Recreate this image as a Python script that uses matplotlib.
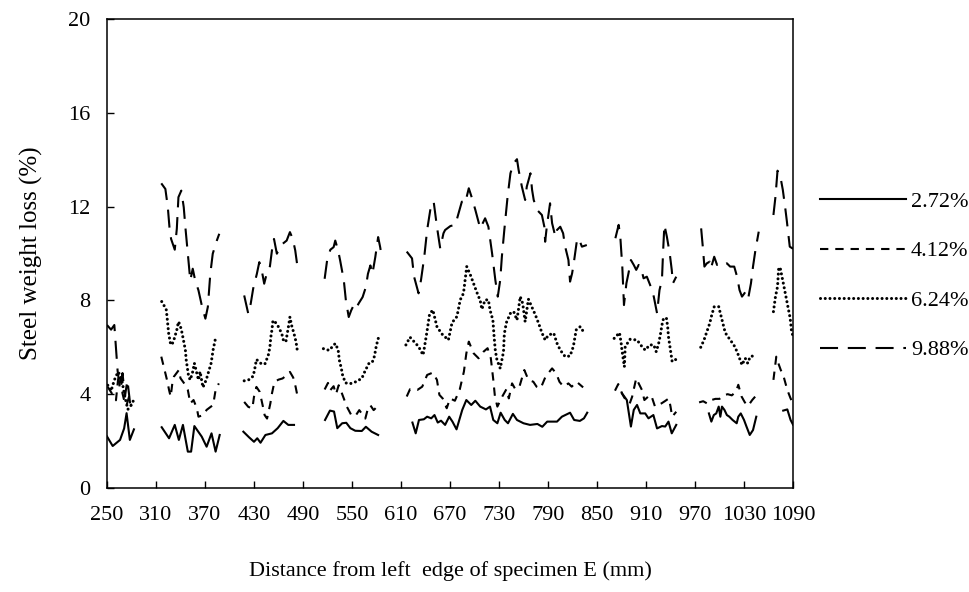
import numpy as np
import matplotlib
matplotlib.use("Agg")
import matplotlib.pyplot as plt

plt.rcParams["font.family"] = "serif"
plt.rcParams["font.serif"] = ["Liberation Serif", "DejaVu Serif"]
plt.rcParams["lines.scale_dashes"] = False

# distance (mm) and steel weight loss (%) per measured segment, one list per gap-free stretch
x_272 = [
    [250, 257, 266, 271, 274, 278, 283],
    [317, 326, 333, 338, 343, 349, 353, 357, 366, 372, 378, 383, 388],
    [417, 424, 430, 434, 438, 444, 452, 459, 466, 472, 479],
    [517, 523, 528, 532, 538, 543, 548, 554, 562, 567, 574, 582],
    [624, 628, 632, 638, 642, 647, 651, 655, 659, 664, 669, 673, 678, 685, 690, 696, 701, 707, 714, 719,
     723, 728, 732, 737, 741, 747, 752, 760, 768, 777, 783, 789, 801, 807, 817, 822, 829, 834, 838],
    [880.5, 886.5, 891.5, 895, 899, 903, 909, 913, 919, 923.5, 929.5, 933.5, 937.5, 941.5, 947],
    [987, 990, 993, 996, 999, 1001, 1003, 1006, 1009, 1012, 1016, 1021, 1023, 1026, 1030, 1033, 1037, 1041, 1045],
    [1078, 1083, 1087, 1090],
]
y_272 = [
    [2.2, 1.79, 2.05, 2.54, 3.19, 2.05, 2.5],
    [2.59, 2.12, 2.69, 2.05, 2.69, 1.55, 1.55, 2.64, 2.19, 1.76, 2.33, 1.55, 2.26],
    [2.40, 2.16, 1.97, 2.12, 1.93, 2.26, 2.33, 2.55, 2.86, 2.69, 2.69],
    [2.90, 3.30, 3.26, 2.55, 2.76, 2.78, 2.55, 2.44, 2.43, 2.61, 2.40, 2.26],
    [2.79, 2.33, 2.90, 2.93, 3.04, 2.97, 3.11, 2.79, 2.87, 2.69, 3.04, 2.83, 2.50, 3.33, 3.75, 3.54, 3.72, 3.47, 3.35, 3.47,
     2.90, 2.76, 3.21, 2.90, 2.76, 3.16, 2.90, 2.76, 2.69, 2.73, 2.61, 2.83, 2.83, 3.04, 3.21, 2.90, 2.86, 2.97, 3.21],
    [4.04, 3.75, 2.62, 3.33, 3.54, 3.18, 3.18, 2.97, 3.11, 2.54, 2.64, 2.62, 2.83, 2.33, 2.69],
    [3.18, 2.83, 3.11, 3.18, 3.47, 3.04, 3.47, 3.33, 3.11, 3.04, 2.90, 2.76, 3.04, 3.18, 2.90, 2.62, 2.26, 2.47, 3.04],
    [3.3, 3.35, 2.9, 2.7],
]

x_412 = [
    [251, 256, 261, 263.5, 266, 269, 272, 274, 277, 280],
    [316.5, 319, 322, 324, 326, 328, 330, 332, 338, 340, 346, 349, 352, 356, 360, 362, 368, 372, 380, 383, 387],
    [418, 423, 428, 430, 433, 437, 441, 443, 446, 450, 452, 455, 460, 465, 470, 474, 478, 481, 483],
    [516.5, 520.6, 523.4, 527.5, 530.4, 533.7, 537.7, 543.8, 549.1, 554, 558.9, 566.3, 569.5, 572.4, 576.5, 582.6],
    [617, 621, 630, 636, 642, 649, 654, 657, 661, 666, 670, 676, 682, 687, 690, 693, 699, 705, 711, 716, 720, 723,
     725, 728, 734, 739, 742, 746, 750, 755, 761, 766, 772, 776, 781, 787, 795, 800, 804, 809, 815, 819, 825, 833],
    [872, 876, 881, 886, 890, 893, 895, 898, 901, 905, 908, 915, 917, 921, 929, 933, 938, 940, 942, 947],
    [975, 980, 985, 990, 995, 1000, 1005, 1010, 1015, 1020, 1023, 1027, 1031, 1035, 1040, 1045],
    [1066, 1069.5, 1072, 1075, 1078.5, 1083, 1087, 1090],
]
y_412 = [
    [4.31, 4.03, 3.74, 4.6, 4.88, 4.03, 3.60, 3.53, 3.89, 3.5],
    [5.6, 5.25, 4.82, 4.53, 4.18, 3.89, 4.46, 4.75, 5.03, 4.68, 4.39, 4.18, 3.61, 3.75, 3.40, 3.04, 3.11, 3.33, 3.54, 4.18, 4.46],
    [3.67, 3.46, 3.39, 3.89, 4.31, 4.10, 3.46, 3.11, 2.96, 3.60, 4.03, 4.52, 4.62, 4.67, 4.81, 4.95, 4.71, 4.31, 3.96],
    [4.20, 4.48, 4.17, 4.34, 4.00, 4.38, 4.03, 3.46, 3.11, 3.06, 3.32, 2.96, 3.39, 3.53, 3.32, 3.53],
    [3.90, 4.21, 4.18, 4.32, 4.82, 4.92, 4.61, 3.97, 3.82, 3.40, 3.82, 3.72, 4.21, 4.96, 5.74, 6.24, 5.74, 5.53, 5.81, 5.96, 5.53, 4.61,
     3.90, 3.47, 3.90, 4.21, 3.82, 4.46, 4.21, 4.32, 5.03, 4.61, 4.53, 4.32, 4.25, 4.75, 5.10, 4.89, 4.53, 4.32, 4.46, 4.32, 4.53, 4.29],
    [4.15, 4.43, 4.0, 3.7, 3.6, 3.89, 4.21, 4.68, 4.46, 4.18, 3.75, 3.97, 3.89, 3.47, 3.61, 3.7, 3.82, 3.47, 3.04, 3.25],
    [3.65, 3.7, 3.6, 3.75, 3.8, 3.8, 3.95, 4.0, 3.95, 4.1, 4.4, 3.9, 3.65, 3.5, 3.75, 3.95],
    [4.61, 5.60, 5.32, 5.03, 4.75, 4.18, 3.82, 3.6],
]

x_624 = [
    [251, 255, 259, 263.5, 267.5, 271.5, 275.5, 278.5, 282.6],
    [317, 322.5, 323.5, 324.5, 325.5, 327.5, 329.5, 332.5, 335.5, 337.5, 339.5, 342, 344, 346, 347, 348.5, 350, 352,
     355, 357, 359, 362, 364, 367.5, 371.5, 374.5, 377.5, 380, 383],
    [418, 424, 429, 431, 433, 439.5, 443.5, 447.5, 449.5, 450.5, 452, 453, 454.5, 460, 464, 466, 469, 472, 474, 476,
     479, 481.5, 483],
    [515, 522, 529.5, 533, 534.5, 537, 538.5, 542, 548, 554, 562, 566, 571, 575, 577.5, 579.5, 582, 584.5],
    [616, 621, 626, 631.5, 637, 638.5, 642, 645, 649, 654, 660, 668, 672.5, 678.5, 682.5, 686.5, 690.5, 695, 699, 703,
     707, 709, 713, 717, 719, 722.5, 724, 725.5, 727.5, 731.5, 735.5, 736.5, 739, 744, 748, 752, 756, 759, 762, 766,
     770, 774.5, 778.5, 782.5, 786.5, 790.5, 797, 801, 805, 811, 817, 821, 824.5, 829.5, 834.5],
    [871, 877.5, 879.5, 880.5, 882, 883.5, 884.5, 890.5, 899, 905, 909, 914.5, 919.5, 922.5, 925.5, 927.5, 929.5,
     931.5, 935, 936.5, 937.5, 939, 940.5, 942, 947],
    [977, 981, 984.5, 988, 990.5, 993.5, 999, 1001.5, 1004, 1007, 1012.5, 1017.5, 1021.5, 1024.5, 1027.5, 1031.5,
     1034.5, 1037.5, 1041],
    [1066, 1068.5, 1071, 1072.5, 1074.5, 1076.5, 1078.5, 1080.5, 1082.5, 1084.5, 1086.5, 1088, 1090],
]
y_624 = [
    [4.38, 4.14, 4.6, 4.95, 4.74, 3.96, 3.35, 3.46, 3.74],
    [7.95, 7.62, 7.31, 6.95, 6.60, 6.20, 6.10, 6.38, 6.74, 7.09, 6.95, 6.60, 6.24, 5.88, 5.46, 5.10, 4.75, 4.61,
     4.96, 5.32, 5.03, 4.61, 4.96, 4.29, 4.61, 4.96, 5.32, 5.9, 6.4],
    [4.57, 4.62, 4.77, 5.09, 5.48, 5.28, 5.30, 5.66, 6.01, 6.41, 6.75, 7.08, 7.15, 6.87, 6.58, 6.30, 6.23, 6.84, 7.29,
     6.94, 6.58, 6.23, 5.87],
    [5.94, 5.87, 6.16, 5.90, 5.45, 5.09, 4.81, 4.48, 4.45, 4.52, 4.67, 4.99, 5.33, 5.38, 5.62, 6.01, 6.37, 6.47],
    [6.10, 6.43, 6.24, 6.03, 5.67, 5.96, 6.71, 7.42, 7.59, 6.88, 6.57, 6.31, 7.05, 7.31, 8.02, 8.30, 9.44, 9.08, 8.70,
     8.33, 7.99, 7.62, 8.02, 8.02, 7.59, 7.16, 6.45, 5.86, 5.46, 5.10, 5.81, 6.57, 7.05, 7.45, 7.52, 7.16, 8.16, 7.87,
     7.09, 8.05, 7.73, 7.38, 7.02, 6.62, 6.31, 6.52, 6.60, 6.17, 5.88, 5.60, 5.63, 6.03, 6.74, 6.88, 6.60],
    [6.38, 6.62, 6.20, 5.88, 5.53, 5.17, 6.03, 6.34, 6.31, 6.03, 5.88, 6.10, 6.10, 5.81, 6.17, 6.52, 6.95, 7.24,
     7.24, 6.88, 6.45, 6.10, 5.74, 5.39, 5.49],
    [6.0, 6.31, 6.67, 7.02, 7.38, 7.73, 7.73, 7.38, 7.02, 6.62, 6.34, 6.10, 5.81, 5.53, 5.25, 5.53, 5.32, 5.60, 5.63],
    [7.52, 8.16, 8.58, 9.41, 9.35, 9.01, 8.66, 8.30, 7.95, 7.59, 7.24, 6.74, 6.45],
]

x_988 = [
    [250, 255, 259, 263, 266, 269, 272, 275, 279],
    [316.5, 321.5, 324.5, 326.5, 328.5, 333, 335.5, 337.5, 341, 344, 346, 349, 352, 355, 358, 362, 366.5, 370.5,
     373.5, 376.5, 379.5, 384.5, 387.5],
    [418, 423, 426, 429, 433.5, 436.5, 439.5, 442.5, 445.5, 449.5, 453, 454.5, 458, 462, 465, 470, 474, 477.5, 480.5, 483],
    [516.5, 519.5, 523.5, 527.5, 529.5, 533, 535.5, 540, 542.5, 546, 549, 552, 555, 558, 563, 567, 569.5, 572.5, 575,
     578.5, 582, 584.5, 586.5],
    [617, 623.5, 626, 631.5, 634.5, 638.5, 642, 646.5, 650, 654, 658, 662, 664, 670.5, 676.5, 680.5, 684.5, 688.5, 693,
     697, 701, 707, 713, 717, 721.5, 725.5, 728.5, 731.5, 733.5, 736.5, 740.5, 744, 748, 752, 754, 758, 762, 764, 768.5,
     770.5, 772.5, 776.5, 782.5, 785.5, 786.5, 788.5, 792.5, 795, 799, 801, 805, 808.5, 811, 815, 817, 819.5, 821.5,
     825.5, 827.5, 831.5, 837.5],
    [872.5, 876.5, 878.5, 881, 883, 886, 888.5, 891.5, 895, 898, 901, 904, 907, 911, 915, 919.5, 923.5, 926.5, 929.5,
     931, 932.5, 935.5, 939, 941.5, 943, 947],
    [977.5, 979.5, 981.5, 984.5, 988, 989.5, 993.5, 997, 1001, 1005, 1009, 1013, 1018, 1021.5, 1024.5, 1027.5, 1030.5,
     1033, 1035.5, 1038.5, 1041, 1044, 1048],
    [1066, 1068.5, 1071, 1074.5, 1077.5, 1080.5, 1082.5, 1086, 1090],
]
y_988 = [
    [6.95, 6.75, 6.95, 5.0, 4.2, 4.9, 3.9, 4.6, 3.4],
    [12.99, 12.75, 11.97, 11.12, 10.62, 10.16, 11.05, 12.4, 12.68, 11.97, 11.12, 9.99, 8.85, 9.35, 8.85, 8.43, 7.72,
     7.22, 7.72, 9.13, 9.99, 10.55, 10.84],
    [8.21, 7.43, 7.86, 8.5, 9.13, 9.63, 9.28, 8.71, 9.13, 9.45, 10.41, 10.62, 9.99, 10.27, 10.41, 10.55, 10.91, 10.62,
     10.13, 9.49],
    [8.92, 9.70, 10.16, 10.27, 10.55, 10.13, 9.70, 8.85, 8.0, 7.29, 7.57, 7.79, 7.65, 7.86, 8.14, 8.57, 9.13, 9.49,
     9.13, 9.84, 10.70, 10.27, 9.84],
    [10.08, 9.79, 9.01, 8.30, 8.87, 9.86, 11.0, 12.0, 12.21, 11.14, 10.22, 10.86, 11.0, 11.17, 11.22, 11.71, 12.21,
     12.14, 12.78, 12.35, 11.86, 11.07, 11.5, 11.14, 10.01, 8.87, 8.16, 8.87, 9.86, 11.0, 12.42, 13.42, 13.85, 14.02,
     13.56, 12.85, 12.28, 12.85, 13.42, 12.71, 12.28, 11.86, 11.64, 11.14, 10.5, 11.14, 12.14, 11.29, 10.72, 11.0,
     11.14, 10.86, 10.29, 9.72, 8.80, 9.15, 9.58, 10.58, 10.65, 10.29, 10.36],
    [10.65, 11.22, 10.72, 9.4, 7.8, 8.73, 9.15, 9.72, 9.51, 9.30, 9.51, 9.37, 8.94, 9.01, 8.66, 8.16, 7.45, 8.44,
     8.87, 10.15, 11.22, 10.72, 10.01, 9.30, 8.73, 9.01],
    [11.07, 10.29, 9.44, 9.58, 9.65, 9.37, 9.86, 9.51, 9.58, 9.51, 9.58, 9.44, 9.44, 9.01, 8.44, 8.16, 8.30, 8.44,
     8.16, 8.73, 9.44, 10.15, 10.93],
    [11.64, 12.42, 13.53, 13.28, 12.71, 11.93, 11.36, 10.29, 10.2],
]

labels = ["2.72%", "4.12%", "6.24%", "9.88%"]


def join(segments):
    # put a NaN between segments so the line breaks at the gaps
    out = []
    for i, seg in enumerate(segments):
        if i > 0:
            out.append(np.nan)
        out.extend(seg)
    return np.array(out, dtype=float)


fig = plt.figure(figsize=(9.69, 5.92), dpi=100)
ax = fig.add_axes([0.1104, 0.1757, 0.708, 0.7923])

ax.plot(join(x_272), join(y_272), color="black", lw=1.5, ls="-", label=labels[0])
ax.plot(join(x_412), join(y_412), color="black", lw=1.5, ls=(0, (6, 5)), label=labels[1])
ax.plot(join(x_624), join(y_624), color="black", lw=2.2, ls=(0, (0.01, 3.4)),
        dash_capstyle="round", label=labels[2])
ax.plot(join(x_988), join(y_988), color="black", lw=1.5, ls=(0, (13, 7)), label=labels[3])

ax.set_xlim(250, 1090)
ax.set_ylim(0, 20)
ax.set_xticks(np.arange(250, 1091, 60))
ax.set_yticks(np.arange(0, 21, 4))
ax.tick_params(direction="in", length=5, width=1, labelsize=16)
ax.tick_params(axis="x", pad=13)
ax.tick_params(axis="y", pad=12)
for s in ax.spines.values():
    s.set_linewidth(1.1)

ax.set_xlabel("Distance from left  edge of specimen E (mm)", fontsize=16, labelpad=26)
ax.set_ylabel("Steel weight loss (%)", fontsize=18, labelpad=18)

fig.legend(loc="center left", bbox_to_anchor=(0.846, 0.534), frameon=False, fontsize=16,
           handlelength=3.9, handletextpad=0.2, labelspacing=1.3, borderpad=0, borderaxespad=0)

fig.savefig("out.png", dpi=100)
